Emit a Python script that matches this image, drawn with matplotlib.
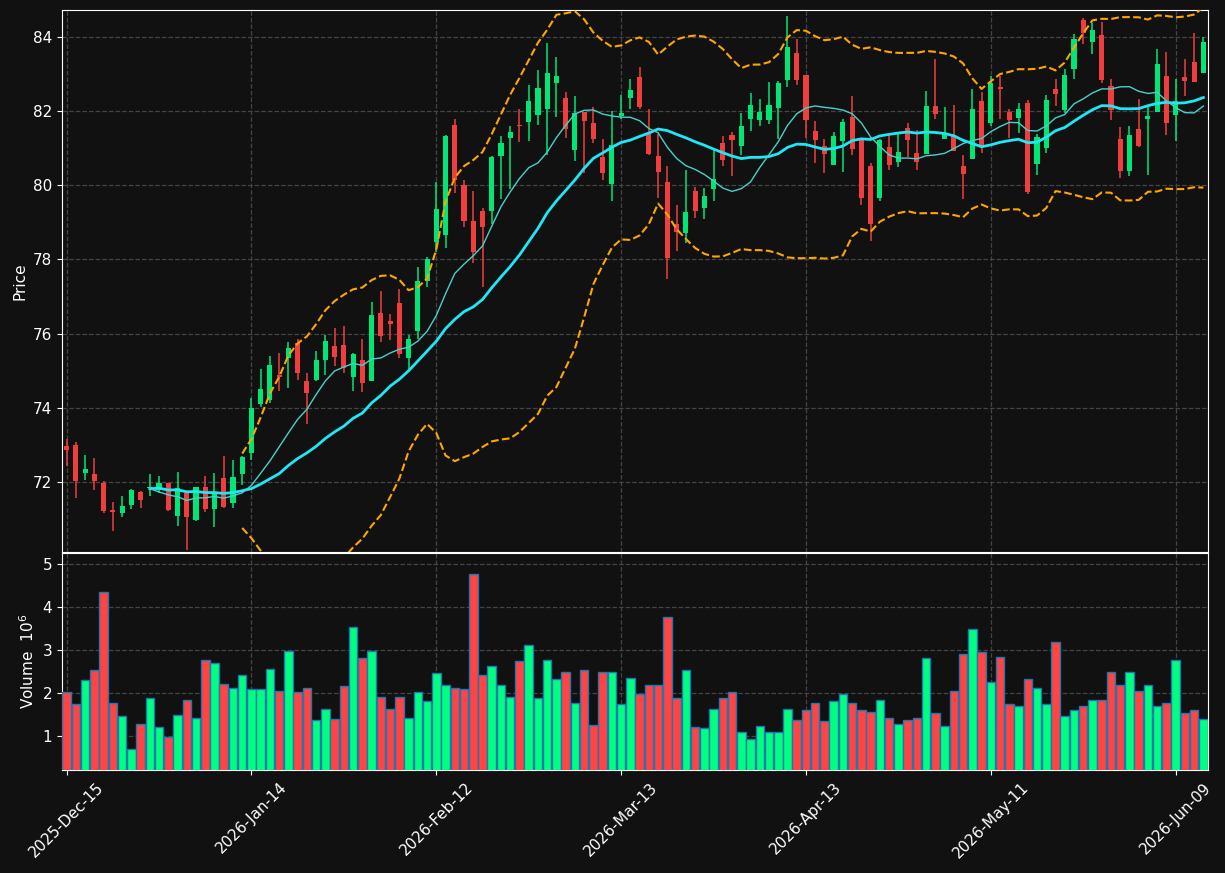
import numpy as np
import pandas as pd
import matplotlib
matplotlib.use("Agg")
import matplotlib.pyplot as plt

# OHLC (one row per trading day, index 0..123)
opens = [72.97, 73.00, 72.24, 72.22, 71.97, 71.24, 71.17, 71.39, 71.73, 71.83,
         71.78, 71.97, 71.08, 71.70, 70.97, 71.86, 71.27, 72.11, 71.43, 72.22,
         72.78, 74.11, 74.22, 74.89, 75.35, 75.76, 74.73, 74.76, 75.28, 75.68,
         75.70, 74.82, 75.30, 74.71, 76.57, 76.33, 76.84, 75.33, 76.06, 77.41,
         78.47, 78.65, 81.62, 80.00, 79.05, 79.32, 79.30, 80.79, 81.28, 81.62,
         81.71, 81.89, 82.06, 82.76, 82.35, 80.95, 81.97, 81.68, 80.76, 80.04,
         81.88, 82.35, 82.92, 81.38, 80.80, 80.08, 78.96, 78.71, 79.84, 79.39,
         79.90, 81.13, 81.35, 81.06, 81.78, 81.75, 81.76, 82.09, 82.85, 83.57,
         82.97, 81.46, 81.05, 80.54, 81.20, 81.84, 81.22, 80.52, 79.66, 81.03,
         80.63, 81.54, 80.86, 80.84, 82.15, 81.25, 81.37, 80.51, 80.71, 82.27,
         81.68, 82.65, 81.97, 81.82, 82.21, 80.58, 81.01, 82.59, 82.03, 83.14,
         84.47, 83.87, 84.05, 82.68, 81.24, 80.39, 81.51, 81.79, 81.98, 82.95,
         81.90, 82.93, 83.32, 83.04]
highs = [73.16, 73.09, 72.73, 72.64, 72.03, 71.46, 71.61, 71.82, 71.76, 72.21,
         72.16, 71.97, 72.27, 71.70, 71.86, 72.16, 72.24, 72.69, 72.59, 72.70,
         74.26, 75.05, 75.40, 75.48, 75.78, 75.86, 74.93, 75.54, 75.96, 76.15,
         76.21, 75.49, 75.86, 76.86, 77.16, 76.53, 77.21, 75.97, 77.79, 78.08,
         80.10, 81.35, 81.80, 80.15, 79.86, 79.39, 80.79, 81.32, 81.61, 82.05,
         82.70, 83.10, 83.83, 83.45, 82.53, 82.42, 81.97, 82.12, 81.24, 82.00,
         82.44, 82.86, 83.18, 82.06, 81.38, 80.53, 79.48, 80.42, 79.95, 79.93,
         80.95, 81.34, 81.44, 81.94, 82.48, 82.32, 82.79, 82.81, 84.57, 83.95,
         82.97, 81.73, 81.24, 81.44, 81.80, 82.40, 81.22, 80.61, 81.26, 81.37,
         81.41, 81.68, 81.49, 82.54, 83.40, 82.12, 82.17, 80.83, 82.61, 82.52,
         82.95, 82.95, 82.07, 82.22, 82.30, 81.38, 82.45, 82.88, 83.13, 84.08,
         84.51, 84.39, 84.41, 82.88, 81.58, 81.61, 82.34, 82.14, 83.69, 83.59,
         82.88, 83.40, 84.10, 83.99]
lows = [72.43, 71.58, 72.06, 71.79, 71.15, 70.68, 71.06, 71.26, 71.29, 71.61,
        71.70, 71.22, 70.82, 70.17, 70.94, 71.18, 70.79, 71.30, 71.31, 71.92,
        72.60, 74.01, 74.12, 74.44, 74.53, 74.74, 73.56, 74.71, 74.89, 75.12,
        74.94, 74.45, 74.42, 74.71, 75.78, 75.83, 75.35, 75.05, 75.86, 77.25,
        78.20, 78.32, 79.79, 78.89, 77.90, 77.27, 78.96, 79.64, 79.91, 81.17,
        81.20, 81.62, 80.81, 81.85, 81.28, 80.66, 80.33, 81.14, 80.15, 79.59,
        81.78, 82.05, 82.05, 80.83, 79.67, 77.48, 78.24, 78.45, 79.13, 79.10,
        79.59, 80.53, 80.24, 80.83, 81.46, 81.61, 81.65, 81.26, 82.66, 82.72,
        81.28, 80.60, 80.34, 80.54, 80.36, 80.83, 79.46, 78.51, 79.59, 80.42,
        80.49, 80.76, 80.42, 80.84, 81.78, 81.25, 80.94, 79.64, 80.71, 80.86,
        81.61, 81.79, 81.27, 81.42, 79.78, 80.27, 80.87, 82.14, 81.94, 82.86,
        83.80, 83.53, 82.75, 81.76, 80.21, 80.26, 81.04, 80.29, 81.98, 81.37,
        81.19, 82.41, 82.79, 83.04]
closes = [72.85, 72.03, 72.35, 72.03, 71.22, 71.20, 71.35, 71.78, 71.52, 71.85,
          71.97, 71.24, 71.84, 71.05, 71.86, 71.27, 71.70, 71.32, 72.14, 72.68,
          73.99, 74.51, 75.16, 74.84, 75.62, 74.93, 74.41, 75.30, 75.81, 75.36,
          75.07, 75.46, 74.66, 76.51, 75.93, 76.25, 75.44, 75.86, 77.43, 78.00,
          79.35, 81.32, 80.14, 79.03, 78.19, 78.89, 80.76, 81.14, 81.43, 81.59,
          82.27, 82.62, 83.04, 82.95, 81.52, 81.95, 81.73, 81.24, 80.32, 81.08,
          81.95, 82.58, 82.12, 80.85, 80.36, 78.04, 78.74, 79.27, 79.31, 79.72,
          80.18, 80.68, 81.22, 81.59, 82.16, 81.97, 82.16, 82.76, 83.73, 82.85,
          81.76, 81.22, 80.84, 81.32, 81.70, 80.98, 79.66, 78.96, 81.22, 80.55,
          80.91, 81.22, 80.63, 82.15, 81.93, 81.41, 80.94, 80.31, 82.05, 81.08,
          82.76, 82.60, 81.76, 82.05, 79.82, 81.30, 82.30, 82.47, 82.97, 83.95,
          84.12, 84.19, 82.85, 82.03, 80.39, 81.35, 81.06, 81.88, 83.27, 81.68,
          82.28, 82.82, 82.79, 83.86]
# volume in millions
volumes = [2.02, 1.74, 2.30, 2.53, 4.36, 1.78, 1.46, 0.69, 1.27, 1.88,
           1.20, 0.97, 1.48, 1.83, 1.41, 2.76, 2.69, 2.20, 2.11, 2.43,
           2.09, 2.09, 2.55, 2.06, 2.97, 2.02, 2.11, 1.37, 1.62, 1.39,
           2.16, 3.53, 2.81, 2.99, 1.92, 1.62, 1.90, 1.41, 2.02, 1.81,
           2.46, 2.18, 2.11, 2.09, 4.78, 2.43, 2.64, 2.18, 1.92, 2.74,
           3.13, 1.88, 2.78, 2.32, 2.48, 1.76, 2.53, 1.25, 2.50, 2.50,
           1.74, 2.34, 1.97, 2.18, 2.18, 3.78, 1.88, 2.53, 1.20, 1.18,
           1.62, 1.88, 2.02, 1.09, 0.92, 1.23, 1.09, 1.09, 1.64, 1.37,
           1.60, 1.78, 1.34, 1.81, 1.97, 1.76, 1.60, 1.57, 1.85, 1.41,
           1.29, 1.37, 1.41, 2.81, 1.53, 1.23, 2.04, 2.90, 3.50, 2.95,
           2.25, 2.83, 1.74, 1.70, 2.32, 2.11, 1.74, 3.18, 1.46, 1.60,
           1.69, 1.83, 1.85, 2.48, 2.18, 2.50, 2.06, 2.18, 1.69, 1.76,
           2.76, 1.53, 1.60, 1.39]

tick_pos = [0, 20, 40, 60, 80, 100, 120]
tick_labels = ["2025-Dec-15", "2026-Jan-14", "2026-Feb-12", "2026-Mar-13",
               "2026-Apr-13", "2026-May-11", "2026-Jun-09"]

df = pd.DataFrame({"Open": opens, "High": highs, "Low": lows,
                   "Close": closes, "Volume": volumes})
x = np.arange(len(df))

# indicators
ma_fast = df["Close"].rolling(10).mean()
ma_slow = df["Close"].rolling(20, min_periods=10).mean()
mid = df["Close"].rolling(20).mean()
std = df["Close"].rolling(20).std()
upper = mid + 2 * std
lower = mid - 2 * std

bg = "#111111"
up_c, down_c = "#00e676", "#f03e3e"
vup_c, vdown_c = "#00ff80", "#ff4444"
grid_kw = dict(color="#444444", linestyle="--", linewidth=0.9)

fig = plt.figure(figsize=(12.25, 8.73), dpi=100, facecolor=bg)
ax = fig.add_axes([62 / 1225, 321 / 873, 1146 / 1225, 542 / 873], facecolor=bg)
axv = fig.add_axes([62 / 1225, 103 / 873, 1146 / 1225, 217 / 873], facecolor=bg, sharex=ax)

up = df["Close"] >= df["Open"]
colors = np.where(up, up_c, down_c)

# candles
ax.vlines(x, df["Low"], df["High"], colors=colors, linewidth=1.1, zorder=2)
body_lo = np.minimum(df["Open"], df["Close"])
body_h = (df["Close"] - df["Open"]).abs().clip(lower=0.03)
ax.bar(x, body_h, bottom=body_lo, width=0.55, color=colors, linewidth=0, zorder=3)

ax.plot(x, upper, color="#ffa500", linestyle="--", linewidth=1.5, zorder=4)
ax.plot(x, lower, color="#ffa500", linestyle="--", linewidth=1.5, zorder=4)
ax.plot(x, ma_slow, color="#1ee8f5", linewidth=2, zorder=5)
ax.plot(x, ma_fast, color="#48d1cc", linewidth=1, zorder=5)

ax.set_ylim(70.11, 84.73)
ax.set_xlim(-0.5, len(df) - 0.5)
ax.set_yticks([72, 74, 76, 78, 80, 82, 84])
ax.set_ylabel("Price", color="white", fontsize=11)
ax.grid(True, **grid_kw)
ax.tick_params(axis="x", labelbottom=False, length=0)

# volume
vcol = np.where(up, vup_c, vdown_c)
axv.bar(x, df["Volume"], width=0.92, color=vcol, edgecolor="#1f77b4", linewidth=1, zorder=3)
axv.set_ylim(0.21, 5.26)
axv.set_yticks([1, 2, 3, 4, 5])
axv.set_ylabel("Volume  $10^6$", color="white", fontsize=11)
axv.grid(True, **grid_kw)
axv.set_xticks(tick_pos)
axv.set_xticklabels(tick_labels, rotation=45, ha="center")

for a in (ax, axv):
    a.tick_params(colors="white", labelsize=11)
    for s in a.spines.values():
        s.set_color("white")

fig.savefig("out.png", dpi=100, facecolor=bg)
